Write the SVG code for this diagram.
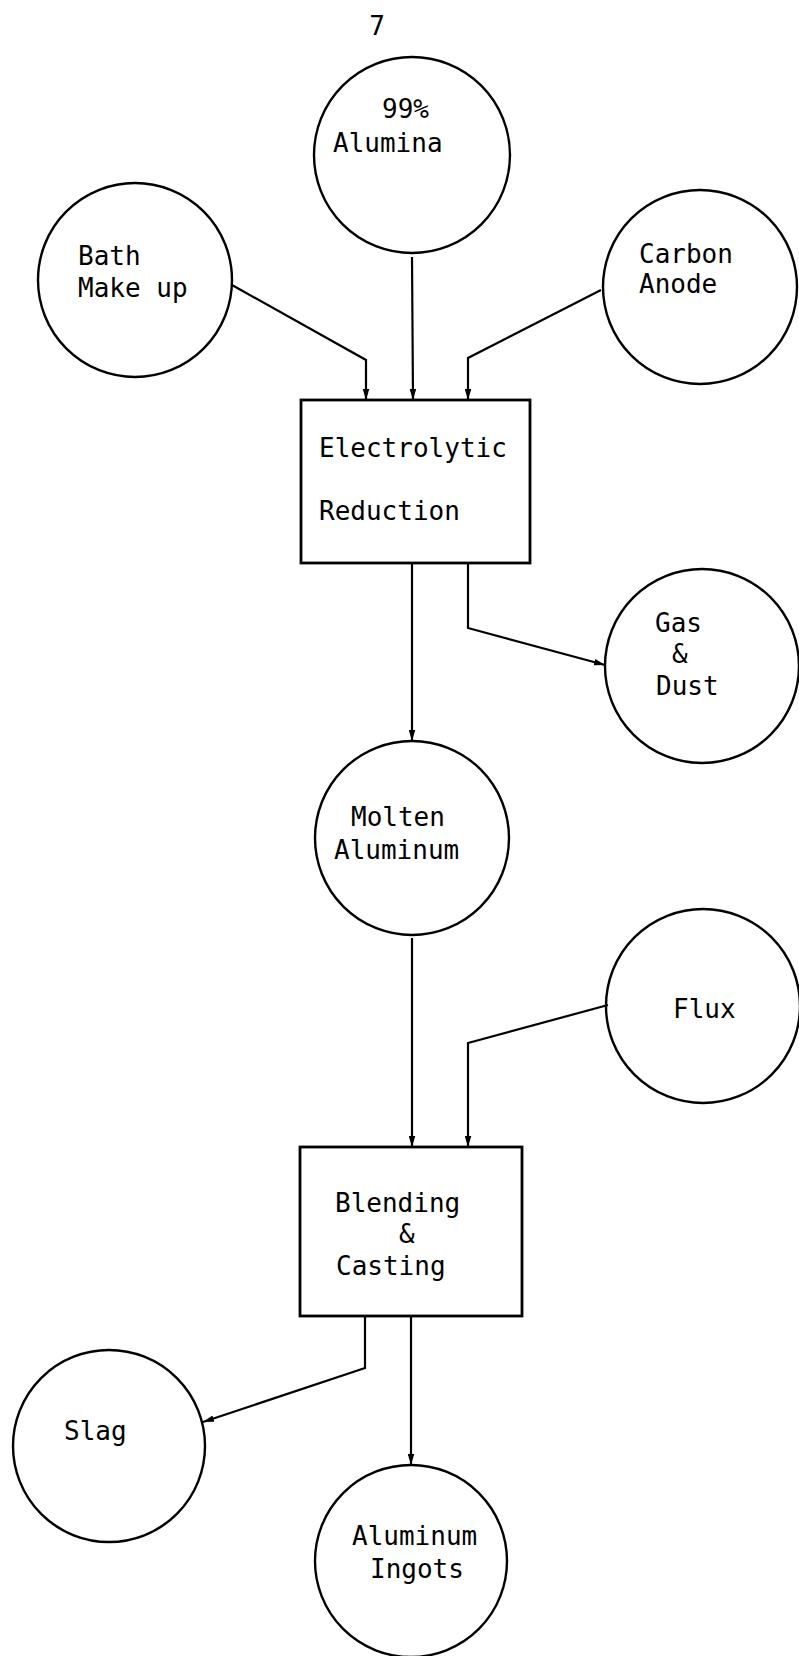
<svg xmlns="http://www.w3.org/2000/svg" width="799" height="1656" viewBox="0 0 799 1656">
<defs>
<style>
.node{fill:none;stroke:#000;stroke-width:2.4}
.box{fill:none;stroke:#000;stroke-width:2.8}
.c{fill:none;stroke:#000;stroke-width:2.2;stroke-linejoin:miter}
.t{font-family:"DejaVu Sans Mono","Liberation Mono",monospace;font-size:26px;fill:#000}
</style>
<marker id="ah" viewBox="0 0 10 6" refX="10" refY="3" markerWidth="11" markerHeight="7" markerUnits="userSpaceOnUse" orient="auto">
<path d="M0,0 L10,3 L0,6 Z" fill="#000"/>
</marker>
</defs>
<rect width="799" height="1656" fill="#fff"/>
<text class="t" x="377" y="35" text-anchor="middle" font-size="33">7</text>

<g id="alumina"><circle class="node" cx="412" cy="155" r="98"/><text class="t" x="382" y="118">99%</text><text class="t" x="333" y="152">Alumina</text></g>
<g id="bath"><circle class="node" cx="135" cy="280" r="97"/><text class="t" x="78" y="265">Bath</text><text class="t" x="78" y="297">Make up</text></g>
<g id="carbon"><circle class="node" cx="700" cy="287" r="97"/><text class="t" x="639" y="263">Carbon</text><text class="t" x="639" y="293">Anode</text></g>
<g id="electrolytic"><rect class="box" x="301" y="400" width="229" height="163"/><text class="t" x="319" y="457">Electrolytic</text><text class="t" x="319" y="520">Reduction</text></g>
<g id="gas"><circle class="node" cx="702" cy="666" r="97"/><text class="t" x="655" y="632">Gas</text><text class="t" x="672" y="663">&amp;</text><text class="t" x="656" y="695">Dust</text></g>
<g id="molten"><circle class="node" cx="412" cy="838" r="97"/><text class="t" x="351" y="826">Molten</text><text class="t" x="334" y="859">Aluminum</text></g>
<g id="flux"><circle class="node" cx="703" cy="1006" r="97"/><text class="t" x="673" y="1018">Flux</text></g>
<g id="blending"><rect class="box" x="300" y="1147" width="222" height="169"/><text class="t" x="335" y="1212">Blending</text><text class="t" x="399" y="1243">&amp;</text><text class="t" x="336" y="1275">Casting</text></g>
<g id="slag"><circle class="node" cx="109" cy="1446" r="96"/><text class="t" x="64" y="1440">Slag</text></g>
<g id="ingots"><circle class="node" cx="411" cy="1561" r="96"/><text class="t" x="352" y="1545">Aluminum</text><text class="t" x="370" y="1578">Ingots</text></g>

<g id="connectors">
<polyline class="c" points="232,285 366,360 366,400" marker-end="url(#ah)"/>
<polyline class="c" points="412,257 413,400" marker-end="url(#ah)"/>
<polyline class="c" points="601,290 468,358 468,400" marker-end="url(#ah)"/>
<polyline class="c" points="412,563 412,741" marker-end="url(#ah)"/>
<polyline class="c" points="468,563 468,628 605,665" marker-end="url(#ah)"/>
<polyline class="c" points="412,938 412,1147" marker-end="url(#ah)"/>
<polyline class="c" points="608,1005 468,1043 468,1147" marker-end="url(#ah)"/>
<polyline class="c" points="365,1316 365,1368 203,1422" marker-end="url(#ah)"/>
<polyline class="c" points="411,1316 411,1465" marker-end="url(#ah)"/>
</g>
</svg>
